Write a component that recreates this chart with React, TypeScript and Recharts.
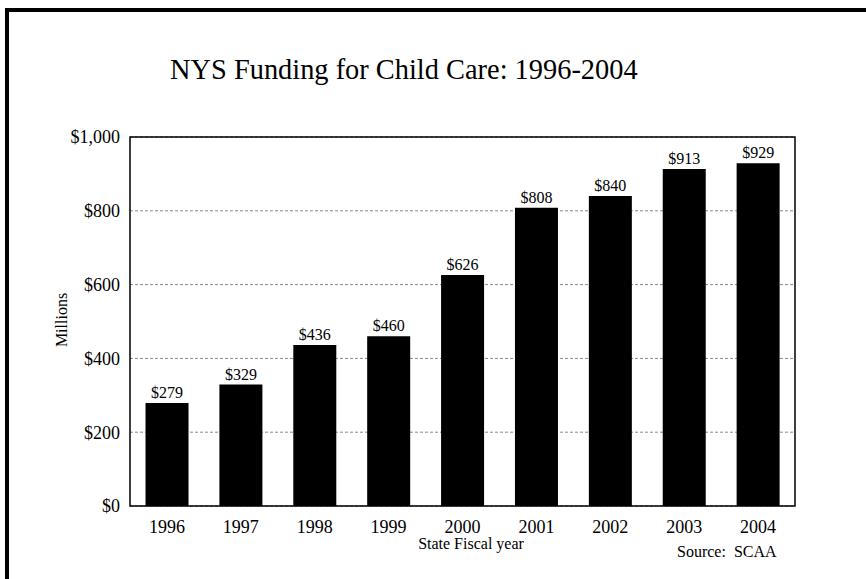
import React from 'react';
import { BarChart, Bar, XAxis, YAxis, CartesianGrid, LabelList, ReferenceArea } from 'recharts';

const years = ['1996', '1997', '1998', '1999', '2000', '2001', '2002', '2003', '2004'];
const funding = [279, 329, 436, 460, 626, 808, 840, 913, 929];
const yTicks = [0, 200, 400, 600, 800, 1000];

const serif = '"Liberation Serif", "Times New Roman", serif';

const data = years.map((year, i) => ({ year, value: funding[i] }));

const money = (v: number) => `$${v.toLocaleString('en-US')}`;

export default function App() {
  return (
    <div style={{ position: 'absolute', left: 0, top: 0, width: 866, height: 579, background: '#fff', overflow: 'hidden' }}>
      <div
        style={{
          position: 'absolute',
          left: 5,
          top: 8,
          width: 870,
          height: 580,
          borderLeft: '4px solid #000',
          borderTop: '4px solid #000',
        }}
      />
      <BarChart
        width={866}
        height={579}
        data={data}
        margin={{ top: 137, right: 71, left: 70, bottom: 43 }}
        barCategoryGap="21%"
        style={{ position: 'absolute', left: 0, top: 0, fontFamily: serif }}
      >
        <CartesianGrid vertical={false} stroke="#888" strokeDasharray="3 2" />
        <XAxis
          dataKey="year"
          height={30}
          axisLine={false}
          tickLine={false}
          tickSize={0}
          tickMargin={14}
          tick={{ fontSize: 18, fill: '#000', fontFamily: serif }}
        />
        <YAxis
          width={60}
          domain={[0, 1000]}
          ticks={yTicks}
          tickFormatter={money}
          axisLine={false}
          tickLine={false}
          tickSize={0}
          tickMargin={10}
          tick={{ fontSize: 18, fill: '#000', fontFamily: serif }}
        />
        <Bar dataKey="value" fill="#000" isAnimationActive={false}>
          <LabelList
            dataKey="value"
            position="top"
            offset={5}
            formatter={(v: any) => money(Number(v))}
            fontFamily={serif}
            style={{ fontSize: 16, fill: '#000', fontFamily: serif }}
          />
        </Bar>
        <ReferenceArea y1={0} y2={1000} fill="none" stroke="#000" strokeWidth={1.5} ifOverflow="visible" />
      </BarChart>
      <svg
        width={866}
        height={579}
        style={{ position: 'absolute', left: 0, top: 0, pointerEvents: 'none' }}
      >
        <text x={170} y={79} fontSize={28.4} fontFamily={serif} fill="#000">
          NYS Funding for Child Care: 1996-2004
        </text>
        <text transform="translate(67,320) rotate(-90)" textAnchor="middle" fontSize={16} fontFamily={serif} fill="#000">
          Millions
        </text>
        <text x={471} y={549} textAnchor="middle" fontSize={16} fontFamily={serif} fill="#000">
          State Fiscal year
        </text>
        <text x={677} y={557} fontSize={16} fontFamily={serif} fill="#000" style={{ whiteSpace: 'pre' }}>
          {'Source:  SCAA'}
        </text>
      </svg>
    </div>
  );
}
